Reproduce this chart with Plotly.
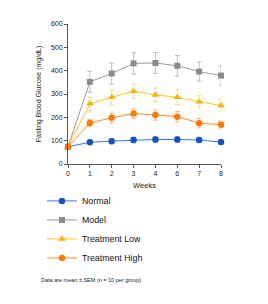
import plotly.graph_objects as go

weeks = ["0", "1", "2", "3", "4", "6", "7", "8"]

normal = [74, 93, 98, 103, 105, 105, 103, 94]
normal_err = [6, 9, 11, 12, 12, 12, 11, 8]

model = [74, 352, 388, 431, 433, 421, 396, 379]
model_err = [6, 45, 45, 46, 45, 44, 41, 42]

low = [74, 258, 286, 312, 296, 286, 267, 251]
low_err = [6, 28, 32, 32, 30, 32, 26, 26]

high = [74, 176, 198, 216, 210, 203, 175, 168]
high_err = [6, 15, 20, 20, 22, 22, 20, 18]

series = [
    ("Normal", normal, normal_err, "circle", 6.5, "#1552c8", "#3a78e6", "rgba(80,130,230,0.55)"),
    ("Model", model, model_err, "square", 6, "#8c8c8c", "#9a9a9a", "rgba(150,150,150,0.6)"),
    ("Treatment Low", low, low_err, "triangle-up", 7, "#f5b400", "#ffc61a", "rgba(255,200,40,0.6)"),
    ("Treatment High", high, high_err, "circle", 6.5, "#ff7a00", "#ff8c1a", "rgba(255,140,40,0.6)"),
]

font_family = "Liberation Sans, Arial, sans-serif"

fig = go.Figure()
for name, vals, errs, sym, size, mcol, lcol, ecol in series:
    fig.add_trace(go.Scatter(
        x=weeks, y=vals, name=name, mode="lines+markers",
        line=dict(color=lcol, width=1),
        marker=dict(symbol=sym, size=size, color=mcol),
        error_y=dict(type="data", array=errs, visible=True, color=ecol, thickness=1, width=2.5),
        cliponaxis=False,
    ))

fig.update_layout(
    width=268, height=304,
    margin=dict(l=68, r=47, t=24, b=140),
    paper_bgcolor="white", plot_bgcolor="white",
    font=dict(family=font_family, size=7, color="#222"),
    showlegend=True,
    legend=dict(
        x=-0.17, xanchor="left", y=-0.16, yanchor="top",
        font=dict(size=8.8, color="#111"),
        tracegroupgap=0, itemwidth=30,
        bgcolor="rgba(0,0,0,0)",
    ),
    xaxis=dict(
        type="category", range=[0, 7],
        showline=True, linecolor="#555", linewidth=1,
        ticks="outside", ticklen=3, tickcolor="#555",
        showgrid=False, zeroline=False,
        tickfont=dict(size=7),
        title=dict(text="Weeks", font=dict(size=7.5), standoff=6),
    ),
    yaxis=dict(
        range=[0, 600], dtick=100,
        showline=True, linecolor="#555", linewidth=1,
        ticks="outside", ticklen=3, tickcolor="#555",
        showgrid=False, zeroline=False,
        tickfont=dict(size=7),
        title=dict(text="Fasting Blood Glucose (mg/dL)", font=dict(size=7), standoff=8),
    ),
    annotations=[dict(
        text="Data are mean ± SEM (n = 10 per group)",
        xref="paper", yref="paper", x=-0.19, y=-0.83,
        xanchor="left", yanchor="middle", showarrow=False,
        font=dict(size=5.5, color="#222"),
    )],
)

fig.write_html("out.html")
